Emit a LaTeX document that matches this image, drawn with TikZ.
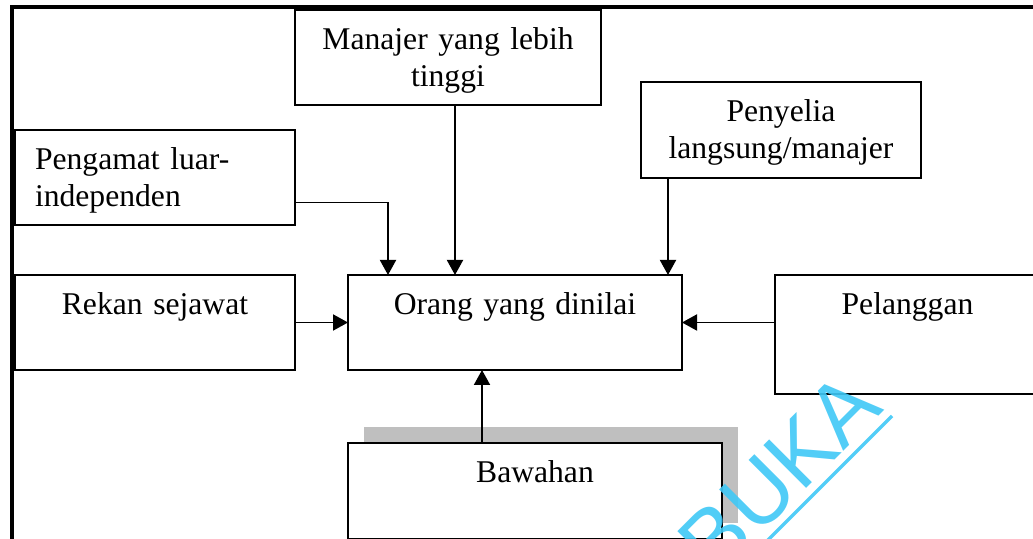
\documentclass[tikz,border=0pt]{standalone}
\usepackage{fontspec}
\setmainfont{Liberation Serif}
\newfontfamily\wmfont{Liberation Sans}
\usepackage{xcolor}
\definecolor{shade}{HTML}{BFBFBF}
\definecolor{wmblue}{HTML}{3FC8F6}
\usepackage{tikz}
\usetikzlibrary{arrows.meta,shadows}

\begin{document}
\begin{tikzpicture}[
  box/.style={rectangle,draw=black,line width=1.1pt,fill=white,inner xsep=0pt,inner ysep=0pt,
    outer sep=0pt,align=center,font=\fontsize{18}{21}\selectfont,text height=0.8cm,
    text depth=1.1cm,anchor=north west,text width=#1},
  arr/.style={-{Triangle[length=0.3cm,width=0.32cm]},line width=1.1pt}]
  \useasboundingbox (0,0) rectangle (20.66,-10.78);

  % --- Bingkai ---
  \draw[line width=2pt] (0.24,-11) |- (21,-0.14);

  % --- Kotak penilai ---
  \node[box=6.12cm] (manajer) at (5.9,-0.2) {Manajer yang lebih\\tinggi};
  \node[box=5.6cm,text depth=1.12cm] (penyelia) at (12.82,-1.64) {Penyelia\\langsung/manajer};
  \node[box=4.8cm,inner xsep=0.4cm,align=left] (pengamat) at (0.3,-2.6)
        {Pengamat luar-\\independen};
  \node[box=5.6cm] (rekan) at (0.3,-5.5) {Rekan sejawat};
  \node[box=6.68cm] (orang) at (6.96,-5.5) {Orang yang dinilai};
  \node[box=5.3cm,text depth=1.58cm] (pelanggan) at (15.5,-5.5) {Pelanggan};
  \node[box=7.48cm,text depth=1.12cm,
        drop shadow={shadow xshift=0.32cm,shadow yshift=0.32cm,fill=shade,opacity=1}]
        (bawahan) at (6.96,-8.86) {Bawahan};

  % --- Panah ke orang yang dinilai ---
  \draw[arr] ([xshift=0.14cm]manajer.south) -- ([xshift=-1.2cm]orang.north);
  \draw[arr] ([yshift=-0.5cm]pengamat.east) -| ([xshift=0.8cm]orang.north west);
  \draw[arr] ([xshift=0.54cm]penyelia.south west) -- ([xshift=-0.28cm]orang.north east);
  \draw[arr] (rekan.east) -- (orang.west);
  \draw[arr] (pelanggan.west |- orang.east) -- (orang.east);
  \draw[arr] ([xshift=2.68cm]bawahan.north west) -- ([xshift=2.68cm]orang.south west);

  % --- Tanda air ---
  \node[text=wmblue,opacity=0.9,font=\wmfont\fontsize{50}{52}\selectfont,rotate=45,
        anchor=base east,inner sep=0pt] (wm) at (17.7,-8.2) {BUKA};
  \draw[wmblue,opacity=0.9,line width=2pt] (17.84,-8.32) -- (15.2,-10.96);
\end{tikzpicture}
\end{document}
